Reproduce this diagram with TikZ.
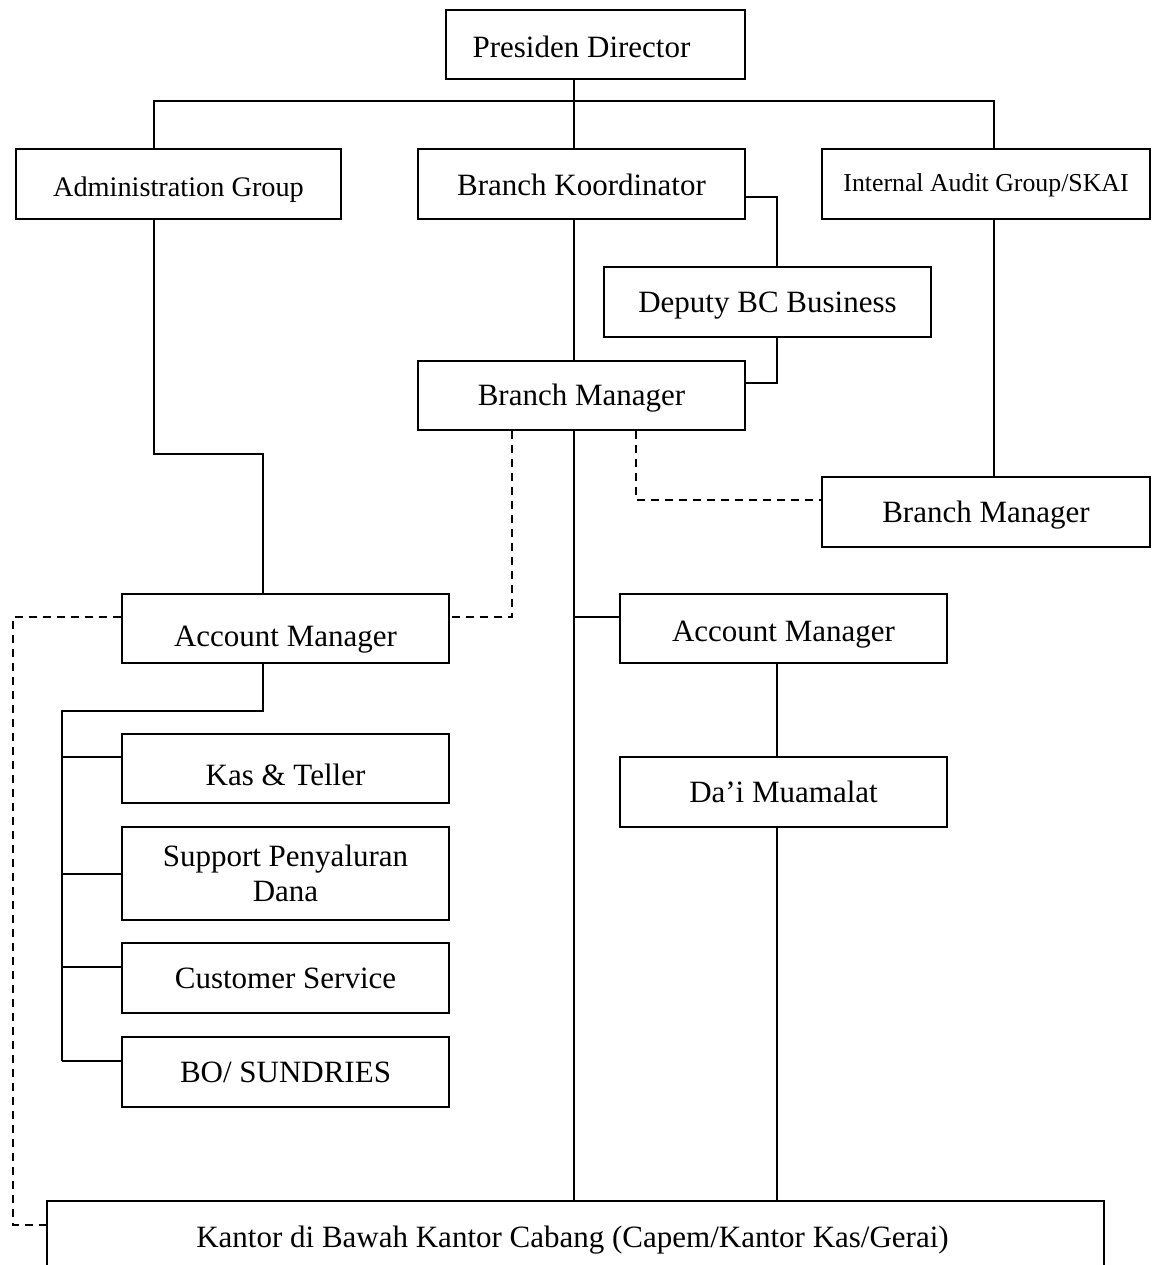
\documentclass[tikz,border=0pt]{standalone}
\usepackage{fontspec}
\setmainfont{Liberation Serif}
\usetikzlibrary{calc}
\begin{document}
\begin{tikzpicture}[x=1pt,y=-1pt,
  bx/.style={draw, line width=1.8pt, rectangle, inner sep=0pt, align=center,
    font=\fontsize{31}{35}\selectfont, text depth=0pt, text height=20.5pt},
  th/.style={text depth=0pt, text height=#1},
  ln/.style={line width=1.8pt},
  dsh/.style={line width=1.8pt, dash pattern=on 8pt off 6pt}]
\useasboundingbox (0,0) rectangle (1152,1265);
\node[bx, th=26.5pt, minimum width=299pt, minimum height=69pt] (pd) at (595.5,44.5) {Presiden Director\hspace*{28pt}};
\node[bx, font=\fontsize{28.3}{32}\selectfont, th=24.7pt, minimum width=325pt, minimum height=70pt] (ag) at (178.5,184) {Administration Group};
\node[bx, th=23.5pt, minimum width=327pt, minimum height=70pt] (bk) at (581.5,184) {Branch Koordinator};
\node[bx, font=\fontsize{25.8}{30}\selectfont, th=14.1pt, minimum width=328pt, minimum height=70pt] (ia) at (986,184) {Internal Audit Group/SKAI};
\node[bx, minimum width=327pt, minimum height=70pt] (dep) at (767.5,302) {Deputy BC Business};
\node[bx, minimum width=327pt, minimum height=69pt] (bm) at (581.5,395.5) {Branch Manager};
\node[bx, minimum width=328pt, minimum height=70pt] (bm2) at (986,512) {Branch Manager};
\node[bx, th=35.5pt, minimum width=327pt, minimum height=69pt] (am1) at (285.5,628.5) {Account Manager};
\node[bx, th=25.5pt, minimum width=327pt, minimum height=69pt] (am2) at (783.5,628.5) {Account Manager};
\node[bx, th=34.5pt, minimum width=327pt, minimum height=69pt] (kas) at (285.5,768.5) {Kas \& Teller};
\node[draw, line width=1.8pt, rectangle, inner sep=0pt, align=center,
    font=\fontsize{31}{35}\selectfont, minimum width=327pt, minimum height=93pt] (sup) at (285.5,873.5) {Support Penyaluran\\Dana};
\node[bx, th=21.5pt, minimum width=327pt, minimum height=70pt] (cs) at (285.5,978) {Customer Service};
\node[bx, minimum width=327pt, minimum height=70pt] (bo) at (285.5,1072) {BO/ SUNDRIES};
\node[bx, minimum width=327pt, minimum height=70pt] (dai) at (783.5,792) {Da’i Muamalat};
\node[bx, minimum width=1057pt, minimum height=74pt] (kan) at (575.5,1238) {};
\node[font=\fontsize{31}{35}\selectfont, inner sep=0pt, text depth=0pt, text height=20.5pt] (kant) at (572.5,1237) {Kantor di Bawah Kantor Cabang (Capem/Kantor Kas/Gerai)};
% top bus
\draw[ln] ([xshift=-24.5pt]ag.north) -- ++(0,-47) -| ([xshift=8pt]ia.north);
\draw[ln] ([xshift=-21.5pt]pd.south) -- ([xshift=-7.5pt]bk.north);
% koordinator / deputy / manager
\draw[ln] ([yshift=-13pt]bk.east) -| ([xshift=9.5pt]dep.north);
\draw[ln] ([xshift=9.5pt]dep.south) |- ([yshift=12.5pt]bm.east);
\draw[ln] ([xshift=-7.5pt]bk.south) -- ([xshift=-7.5pt]bm.north);
% admin to account manager
\draw[ln] ([xshift=-24.5pt]ag.south) -- ++(0,234) -| ([xshift=-22.5pt]am1.north);
% audit to branch manager
\draw[ln] ([xshift=8pt]ia.south) -- ([xshift=8pt]bm2.north);
% main trunk
\draw[ln] ([xshift=-7.5pt]bm.south) -- ([xshift=-1.5pt]kan.north);
\draw[ln] ([yshift=11.5pt]am2.west) -- ++(-46,0);
% dashed lines
\draw[dsh] ([xshift=-69.5pt]bm.south) |- ([yshift=11.5pt]am1.east);
\draw[dsh] ([xshift=54.5pt]bm.south) |- ([yshift=12pt]bm2.west);
\draw[dsh] ([yshift=11.5pt]am1.west) -- ++(-108,0) |- ([yshift=13pt]kan.west);
% right branch
\draw[ln] ([xshift=-6.5pt]am2.south) -- ([xshift=-6.5pt]dai.north);
\draw[ln] ([xshift=-6.5pt]dai.south) -- ([xshift=201.5pt]kan.north);
% left tree
\coordinate (tr) at (62,711);
\coordinate (kasw) at ([yshift=11.5pt]kas.west);
\coordinate (supw) at ([yshift=-0.5pt]sup.west);
\coordinate (csw) at ([yshift=11pt]cs.west);
\coordinate (bow) at ([yshift=11pt]bo.west);
\draw[ln] ([xshift=-22.5pt]am1.south) |- (tr) -- (tr |- bow);
\draw[ln] (tr |- kasw) -- (kasw);
\draw[ln] (tr |- supw) -- (supw);
\draw[ln] (tr |- csw) -- (csw);
\draw[ln] (tr |- bow) -- (bow);
\end{tikzpicture}
\end{document}
